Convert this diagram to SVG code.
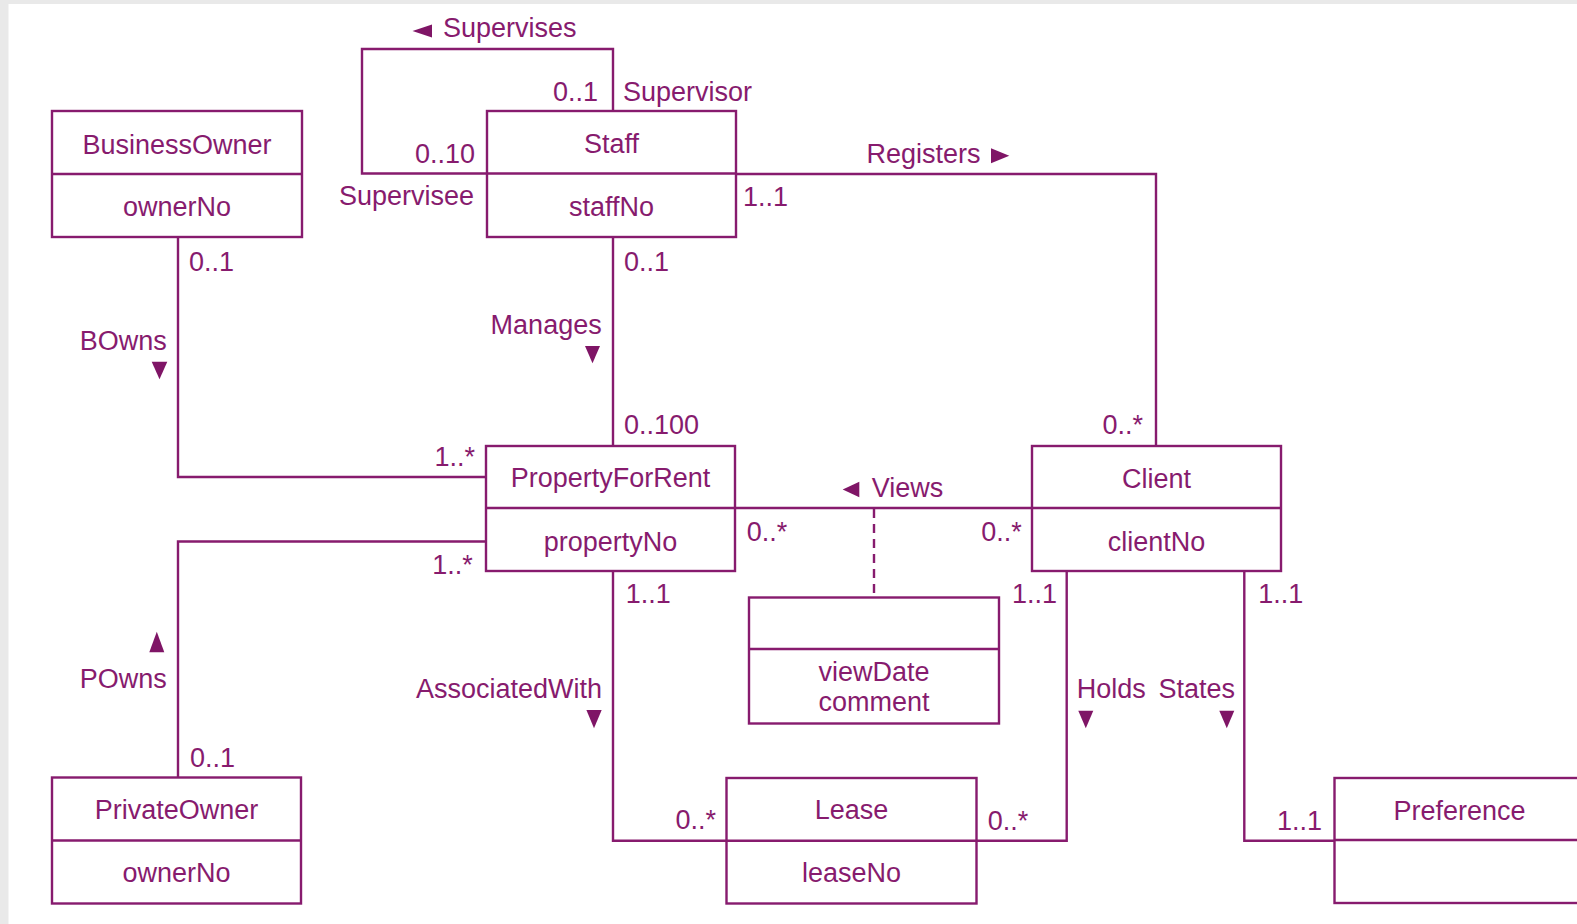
<svg xmlns="http://www.w3.org/2000/svg" width="1577" height="924" viewBox="0 0 1577 924">
  <style>
    .box { fill: #ffffff; stroke: #871b6e; stroke-width: 2.4; }
    .div { stroke: #871b6e; stroke-width: 2.4; fill: none; }
    .edge { stroke: #871b6e; stroke-width: 2.4; fill: none; }
    .dash { stroke: #871b6e; stroke-width: 2.4; fill: none; stroke-dasharray: 9 6; }
    .dir { fill: #7f1566; stroke: none; }
    text { font-family: "Liberation Sans", Arial, sans-serif; font-size: 27px; fill: #871b6e; }
    .c { text-anchor: middle; }
    .e { text-anchor: end; }
  </style>

  <!-- page background with grey frame on the left and top -->
  <rect x="0" y="0" width="1577" height="924" fill="#e9e9e9"/>
  <rect x="8.5" y="4" width="1568.5" height="920" fill="#ffffff"/>

  <!-- associations -->
  <g id="connectors">
    <!-- Supervises (recursive on Staff) -->
    <path class="edge" d="M487,173.5 H362 V49 H613 V111"/>
    <polygon class="dir" points="412.5,31 432,24.5 432,37.5"/>
    <text x="443" y="37">Supervises</text>
    <text class="e" x="598" y="100.5">0..1</text>
    <text x="623" y="100.5">Supervisor</text>
    <text class="e" x="475" y="163">0..10</text>
    <text class="e" x="474" y="204.5">Supervisee</text>

    <!-- Registers -->
    <path class="edge" d="M736,174 H1156 V446"/>
    <text x="866.5" y="163">Registers</text>
    <polygon class="dir" points="991,148.3 991,163.3 1009.3,155.8"/>
    <text x="743" y="205.5">1..1</text>
    <text class="e" x="1143" y="433.8">0..*</text>

    <!-- Manages -->
    <path class="edge" d="M613,237 V446"/>
    <text x="624" y="270.5">0..1</text>
    <text class="e" x="601.7" y="333.8">Manages</text>
    <polygon class="dir" points="585,346 600,346 592.5,363.3"/>
    <text x="624" y="433.8">0..100</text>

    <!-- BOwns -->
    <path class="edge" d="M178,237 V477 H486"/>
    <text x="189" y="270.5">0..1</text>
    <text class="e" x="166.7" y="349.5">BOwns</text>
    <polygon class="dir" points="151.7,361.7 167.3,361.7 159.5,379.3"/>
    <text class="e" x="475" y="465.5">1..*</text>

    <!-- POwns -->
    <path class="edge" d="M178,777.5 V541.5 H486"/>
    <text class="e" x="472.7" y="573.8">1..*</text>
    <polygon class="dir" points="149.3,652.3 164.3,652.3 156.8,631.7"/>
    <text class="e" x="166.7" y="687.8">POwns</text>
    <text x="190" y="767">0..1</text>

    <!-- Views (with association class) -->
    <path class="edge" d="M735,508 H1032"/>
    <polygon class="dir" points="842.7,489.5 859.3,481.7 859.3,497.3"/>
    <text x="871.7" y="497">Views</text>
    <text x="746.7" y="540.5">0..*</text>
    <text class="e" x="1021.7" y="540.5">0..*</text>
    <path class="dash" d="M874,509 V597.5"/>

    <!-- AssociatedWith -->
    <path class="edge" d="M613,571 V840.7 H726.5"/>
    <text x="625.8" y="603">1..1</text>
    <text class="e" x="602" y="697.8">AssociatedWith</text>
    <polygon class="dir" points="586.4,710 601.7,710 594,728.3"/>
    <text class="e" x="716" y="828.8">0..*</text>

    <!-- Holds -->
    <path class="edge" d="M1066.7,571 V840.7 H976.5"/>
    <text class="e" x="1057" y="603">1..1</text>
    <text x="1076.7" y="698">Holds</text>
    <polygon class="dir" points="1078.3,710.7 1093.3,710.7 1085.8,728.3"/>
    <text x="987.7" y="829.5">0..*</text>

    <!-- States -->
    <path class="edge" d="M1244.3,571 V840.7 H1334.5"/>
    <text x="1258.3" y="603">1..1</text>
    <text class="e" x="1235" y="698">States</text>
    <polygon class="dir" points="1219.3,710.7 1234.3,710.7 1226.8,728.3"/>
    <text class="e" x="1322" y="829.5">1..1</text>
  </g>

  <!-- classes -->
  <g id="BusinessOwner">
    <rect class="box" x="52" y="111" width="250" height="126"/>
    <line class="div" x1="52" y1="174" x2="302" y2="174"/>
    <text class="c" x="177" y="153.5">BusinessOwner</text>
    <text class="c" x="177" y="215.5">ownerNo</text>
  </g>

  <g id="Staff">
    <rect class="box" x="487" y="111" width="249" height="126"/>
    <line class="div" x1="487" y1="173.5" x2="736" y2="173.5"/>
    <text class="c" x="611.5" y="153.2">Staff</text>
    <text class="c" x="611.5" y="215.5">staffNo</text>
  </g>

  <g id="PropertyForRent">
    <rect class="box" x="486" y="446" width="249" height="125"/>
    <line class="div" x1="486" y1="508" x2="735" y2="508"/>
    <text class="c" x="610.5" y="487.2">PropertyForRent</text>
    <text class="c" x="610.5" y="550.5">propertyNo</text>
  </g>

  <g id="Client">
    <rect class="box" x="1032" y="446" width="249" height="125"/>
    <line class="div" x1="1032" y1="508" x2="1281" y2="508"/>
    <text class="c" x="1156.5" y="487.5">Client</text>
    <text class="c" x="1156.5" y="550.5">clientNo</text>
  </g>

  <g id="Viewing">
    <rect class="box" x="749" y="597.5" width="250" height="126"/>
    <line class="div" x1="749" y1="649" x2="999" y2="649"/>
    <text class="c" x="874" y="680.5">viewDate</text>
    <text class="c" x="874" y="711">comment</text>
  </g>

  <g id="PrivateOwner">
    <rect class="box" x="52" y="777.5" width="249" height="126"/>
    <line class="div" x1="52" y1="840.5" x2="301" y2="840.5"/>
    <text class="c" x="176.5" y="818.8">PrivateOwner</text>
    <text class="c" x="176.5" y="881.5">ownerNo</text>
  </g>

  <g id="Lease">
    <rect class="box" x="726.5" y="778" width="250" height="125.5"/>
    <line class="div" x1="726.5" y1="840.7" x2="976.5" y2="840.7"/>
    <text class="c" x="851.5" y="818.8">Lease</text>
    <text class="c" x="851.5" y="882.2">leaseNo</text>
  </g>

  <g id="Preference">
    <rect class="box" x="1334.5" y="778" width="250" height="125"/>
    <line class="div" x1="1334.5" y1="840" x2="1584.5" y2="840"/>
    <text class="c" x="1459.5" y="819.5">Preference</text>
  </g>
</svg>
